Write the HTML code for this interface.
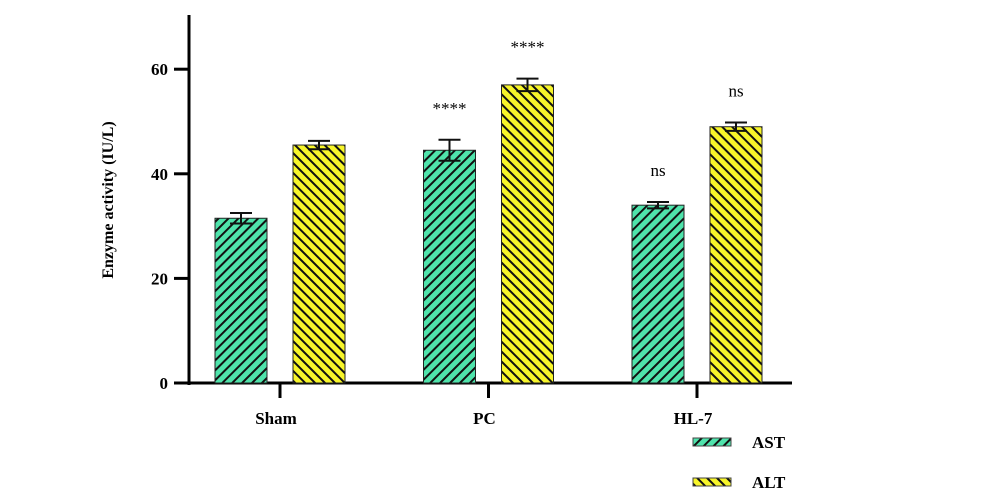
<!DOCTYPE html>
<html><head><meta charset="utf-8"><style>body{margin:0;background:#fff}svg{display:block;font-family:"Liberation Serif",serif}</style></head>
<body>
<svg id="c" width="1000" height="500">
<defs>
<pattern id="hA" width="7" height="7" patternUnits="userSpaceOnUse" patternTransform="rotate(45)"><rect width="7" height="7" fill="#4fe3ab"/><rect width="2" height="7" fill="#111"/></pattern>
<pattern id="hL" width="7" height="7" patternUnits="userSpaceOnUse" patternTransform="rotate(-45)"><rect width="7" height="7" fill="#f7f52a"/><rect width="2" height="7" fill="#111"/></pattern>
</defs>
<g id="plot"></g>
</svg>
<script>
const categories=["Sham","PC","HL-7"];
const astValues=[31.5,44.5,34];
const altValues=[45.5,57,49];
const astErr=[1,2,0.6];
const altErr=[0.8,1.2,0.8];
const astSig=["","****","ns"];
const altSig=["","****","ns"];
const yTicks=[0,20,40,60];
const NS="http://www.w3.org/2000/svg";
const g=document.getElementById('plot');
const y=v=>383-v*5.23;
const gx=i=>280+i*208.5;
function mk(t,a,p){const e=document.createElementNS(NS,t);for(const k in a)e.setAttribute(k,a[k]);(p||g).appendChild(e);return e;}
let e;
e=mk('line',{x1:189,y1:15,x2:189,y2:385,stroke:'#000','stroke-width':3});


e=mk('line',{x1:175,y1:383,x2:792,y2:383,stroke:'#000','stroke-width':3});


yTicks.forEach(t=>{
 e=mk('line',{x1:174,y1:y(t),x2:189,y2:y(t),stroke:'#000','stroke-width':3});
 
 
 e=mk('text',{x:168,y:y(t)+6,'text-anchor':'end','font-size':17,'font-weight':'bold'});e.textContent=t;
 
 
});
e=mk('text',{transform:'translate(113,200) rotate(-90)','text-anchor':'middle','font-size':16,'font-weight':'bold'});e.textContent='Enzyme activity (IU/L)';


function bar(cx,v,err,fill,sig,name){
 e=mk('rect',{x:cx-26,y:y(v),width:52,height:383-y(v),fill:fill,stroke:'#222','stroke-width':1});
 
 
 e=mk('path',{d:`M${cx-11},${y(v+err)}H${cx+11}M${cx},${y(v+err)}V${y(v-err)}M${cx-11},${y(v-err)}H${cx+11}`,stroke:'#111','stroke-width':2,fill:'none'});
 
 
 if(sig){e=mk('text',{x:cx,y:y(v+err)-26,'text-anchor':'middle','font-size':17});e.textContent=sig;
 
 }
}
categories.forEach((c,i)=>{
 const cx=gx(i);
 bar(cx-39,astValues[i],astErr[i],'url(#hA)',astSig[i],'bar-ast');
 bar(cx+39,altValues[i],altErr[i],'url(#hL)',altSig[i],'bar-alt');
 e=mk('line',{x1:cx,y1:383,x2:cx,y2:398,stroke:'#000','stroke-width':3});
 
 
 e=mk('text',{x:cx-4,y:424,'text-anchor':'middle','font-size':17,'font-weight':'bold'});e.textContent=c;
 
 
});
[["AST","url(#hA)",442],["ALT","url(#hL)",482]].forEach(l=>{
 e=mk('rect',{x:693,y:l[2]-4,width:38,height:8,fill:l[1],stroke:'#444','stroke-width':1});
 
 
 e=mk('text',{x:752,y:l[2]+6,'font-size':17,'font-weight':'bold'});e.textContent=l[0];
 
 
});
</script>
</body></html>
